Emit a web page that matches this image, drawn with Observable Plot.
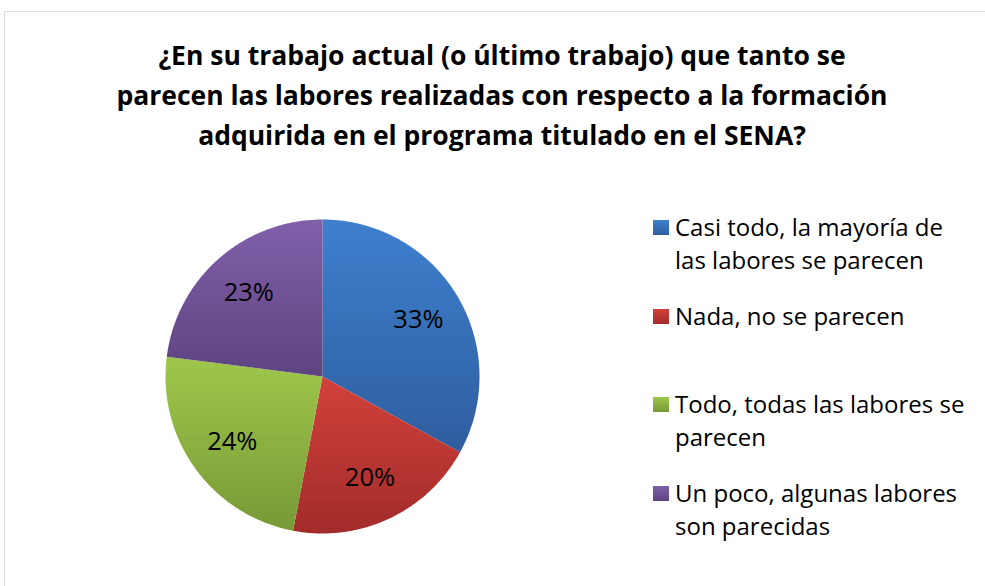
<!DOCTYPE html>
<html><head><meta charset="utf-8">
<script src="https://cdn.jsdelivr.net/npm/d3@7"></script>
<script src="https://cdn.jsdelivr.net/npm/@observablehq/plot@0.6"></script>
<style>
html,body{margin:0;padding:0;background:#fff;width:985px;height:586px;overflow:hidden;font-family:"Open Sans",sans-serif;color:#000}
#frame{position:absolute;left:4px;top:11px;width:1200px;height:800px;border:1px solid #d9e0ec;box-sizing:border-box}
#title{position:absolute;left:0;width:1004px;top:34.7px;text-align:center;font-weight:700;font-size:26.5px;line-height:40px}
#chart{position:absolute;left:0;top:0}
.entry{position:absolute;left:653px;font-size:24px;line-height:33.5px}
.entry .sw{position:absolute;left:0;top:10px;width:16px;height:15px}
.entry .tx{position:absolute;left:22px;white-space:nowrap}
</style></head>
<body>
<div id="frame"></div>
<div id="chart"></div>
<div id="title">¿En su trabajo actual (o último trabajo) que tanto se<br>parecen las labores realizadas con respecto a la formación<br>adquirida en el programa titulado en el SENA?</div>
<div id="legend"></div>
<script>
const categories = [
  "Casi todo, la mayoría de las labores se parecen",
  "Nada, no se parecen",
  "Todo, todas las labores se parecen",
  "Un poco, algunas labores son parecidas"
];
const values = [33, 20, 24, 23];
const legendLines = [
  ["Casi todo, la mayoría de", "las labores se parecen"],
  ["Nada, no se parecen"],
  ["Todo, todas las labores se", "parecen"],
  ["Un poco, algunas labores", "son parecidas"]
];
const topColors = ["#3e80cf", "#d2413b", "#9fc74b", "#8160aa"];
const bottomColors = ["#2e5d9e", "#a22c2a", "#789936", "#5e4380"];
const legendTops = [209.9, 298.9, 386.9, 475.6];

const cx = 322, cy = 376, R = 157;
const arcs = d3.pie().sort(null).value(d => d)(values);

const marks = [];
arcs.forEach((a, i) => {
  const pts = [{x: 0, y: 0}];
  const n = Math.max(2, Math.ceil((a.endAngle - a.startAngle) / 0.01));
  for (let k = 0; k <= n; k++) {
    const t = a.startAngle + (a.endAngle - a.startAngle) * k / n;
    pts.push({x: Math.sin(t), y: -Math.cos(t)});
  }
  pts.push({x: 0, y: 0});
  marks.push(Plot.line(pts, {x: "x", y: "y", fill: `url(#grad${i})`, stroke: "none", curve: "linear"}));
});

const labels = arcs.map((a, i) => {
  const m = (a.startAngle + a.endAngle) / 2;
  return {x: 0.71 * Math.sin(m), y: -0.71 * Math.cos(m), t: values[i] + "%"};
});
marks.push(Plot.text(labels, {x: "x", y: "y", text: "t", fontSize: 25.5, fontFamily: "Open Sans", fill: "#000", textAnchor: "middle", lineAnchor: "middle"}));

const svg = Plot.plot({
  width: 985, height: 586,
  marginTop: 0, marginBottom: 0, marginLeft: 0, marginRight: 0,
  x: {domain: [-1, 1], range: [cx - R, cx + R], axis: null},
  y: {domain: [-1, 1], range: [cy - R, cy + R], axis: null},
  style: {background: "transparent", overflow: "visible", fontFamily: "Open Sans"},
  marks
});

const ns = "http://www.w3.org/2000/svg";
const defs = document.createElementNS(ns, "defs");
topColors.forEach((c, i) => {
  const g = document.createElementNS(ns, "linearGradient");
  g.setAttribute("id", "grad" + i);
  g.setAttribute("x1", "0"); g.setAttribute("y1", "0");
  g.setAttribute("x2", "0"); g.setAttribute("y2", "1");
  const s0 = document.createElementNS(ns, "stop");
  s0.setAttribute("offset", "0"); s0.setAttribute("stop-color", c);
  const s1 = document.createElementNS(ns, "stop");
  s1.setAttribute("offset", "1"); s1.setAttribute("stop-color", bottomColors[i]);
  g.appendChild(s0); g.appendChild(s1);
  defs.appendChild(g);
});
svg.insertBefore(defs, svg.firstChild);
document.getElementById("chart").appendChild(svg);

const leg = document.getElementById("legend");
legendLines.forEach((lines, i) => {
  const e = document.createElement("div");
  e.className = "entry";
  e.style.top = legendTops[i] + "px";
  const sw = document.createElement("div");
  sw.className = "sw";
  sw.style.background = `linear-gradient(${topColors[i]}, ${bottomColors[i]})`;
  const tx = document.createElement("div");
  tx.className = "tx";
  tx.innerHTML = lines.join("<br>");
  e.appendChild(sw); e.appendChild(tx);
  leg.appendChild(e);
});
</script>
</body></html>
